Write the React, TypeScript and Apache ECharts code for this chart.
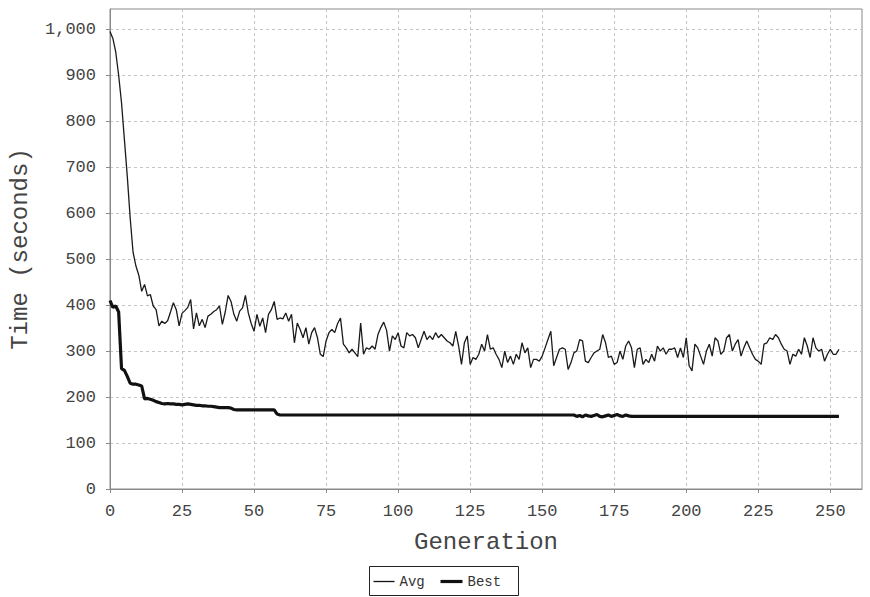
import React, { useEffect, useRef } from "react";
import * as echarts from "echarts";

const avgValues: number[] = [
  995, 980, 950, 900, 840, 760, 680, 590, 515, 485,
  465, 430, 445, 420, 423, 398, 390, 355, 365, 360,
  366, 385, 405, 390, 355, 382, 388, 395, 412, 348,
  383, 355, 369, 351, 376, 380, 386, 390, 398, 358,
  385, 421, 408, 380, 365, 387, 394, 421, 383, 360,
  343, 380, 354, 372, 340, 380, 390, 408, 369, 372,
  370, 383, 365, 380, 318, 361, 347, 329, 351, 315,
  340, 351, 329, 293, 288, 322, 340, 347, 340, 360,
  372, 315, 307, 296, 304, 296, 288, 361, 293, 307,
  304, 311, 304, 336, 351, 363, 345, 300, 333, 325,
  340, 311, 307, 340, 333, 336, 329, 307, 325, 343,
  325, 333, 325, 340, 329, 336, 329, 322, 318, 311,
  343, 311, 271, 318, 333, 271, 286, 282, 293, 315,
  300, 336, 304, 307, 293, 282, 264, 300, 275, 289,
  271, 293, 282, 318, 296, 307, 264, 282, 282, 278,
  289, 307, 325, 343, 268, 286, 304, 307, 304, 260,
  275, 296, 300, 325, 322, 278, 275, 286, 296, 300,
  304, 336, 318, 286, 289, 271, 275, 300, 282, 311,
  322, 307, 264, 304, 307, 271, 282, 275, 293, 278,
  311, 300, 307, 293, 304, 304, 307, 286, 307, 286,
  329, 268, 257, 315, 307, 289, 271, 300, 315, 289,
  329, 322, 293, 300, 329, 336, 300, 315, 325, 289,
  307, 322, 307, 293, 282, 278, 271, 315, 318, 329,
  325, 336, 329, 315, 304, 300, 271, 293, 289, 304,
  293, 329, 311, 286, 329, 307, 300, 304, 278, 293,
  304, 293, 293, 304,
];

const bestValues: number[] = [
  410, 395, 398, 385, 262, 258, 245, 230, 228, 228,
  226, 224, 196, 197, 195, 193, 190, 188, 186, 185,
  186, 185, 185, 184, 184, 183, 184, 185, 184, 183,
  182, 182, 181, 181, 180, 180, 179, 178, 177, 177,
  177, 177, 176, 173, 172, 172, 172, 172, 172, 172,
  172, 172, 172, 172, 172, 172, 172, 172, 163, 161,
  161, 161, 161, 161, 161, 161, 161, 161, 161, 161,
  161, 161, 161, 161, 161, 161, 161, 161, 161, 161,
  161, 161, 161, 161, 161, 161, 161, 161, 161, 161,
  161, 161, 161, 161, 161, 161, 161, 161, 161, 161,
  161, 161, 161, 161, 161, 161, 161, 161, 161, 161,
  161, 161, 161, 161, 161, 161, 161, 161, 161, 161,
  161, 161, 161, 161, 161, 161, 161, 161, 161, 161,
  161, 161, 161, 161, 161, 161, 161, 161, 161, 161,
  161, 161, 161, 161, 161, 161, 161, 161, 161, 161,
  161, 161, 161, 161, 161, 161, 161, 161, 161, 161,
  161, 161, 158, 160, 157, 161, 159, 158, 160, 162,
  158, 157, 159, 161, 158, 160, 162, 159, 158, 161,
  159, 158, 158, 158, 158, 158, 158, 158, 158, 158,
  158, 158, 158, 158, 158, 158, 158, 158, 158, 158,
  158, 158, 158, 158, 158, 158, 158, 158, 158, 158,
  158, 158, 158, 158, 158, 158, 158, 158, 158, 158,
  158, 158, 158, 158, 158, 158, 158, 158, 158, 158,
  158, 158, 158, 158, 158, 158, 158, 158, 158, 158,
  158, 158, 158, 158, 158, 158, 158, 158, 158, 158,
  158, 158, 158, 158,
];

const xTicks: number[] = [0, 25, 50, 75, 100, 125, 150, 175, 200, 225, 250];
const yTicks: number[] = [0, 100, 200, 300, 400, 500, 600, 700, 800, 900, 1000];
const seriesNames: string[] = ["Avg", "Best"];

const FONT = "'Liberation Mono', 'Courier New', monospace";

export default function App() {
  const ref = useRef<HTMLDivElement>(null);

  useEffect(() => {
    if (!ref.current) return;
    const chart = echarts.init(ref.current, undefined, { renderer: "svg" });
    const avgData = avgValues.map((v, i) => [i, v]);
    const bestData = bestValues.map((v, i) => [i, v]);

    chart.setOption({
      animation: false,
      backgroundColor: "#ffffff",
      grid: {
        left: 110,
        right: 8,
        top: 9,
        bottom: 108,
        show: true,
        borderColor: "#8a8a8a",
        borderWidth: 1,
        backgroundColor: "#ffffff",
      },
      xAxis: {
        type: "value",
        min: 0,
        max: 261,
        interval: 25,
        offset: 5,
        name: "Generation",
        nameLocation: "middle",
        nameGap: 36,
        nameTextStyle: { fontFamily: FONT, fontSize: 24, color: "#444" },
        axisLine: { show: true, lineStyle: { color: "#8a8a8a", width: 1 } },
        axisTick: {
          show: true,
          length: 4,
          lineStyle: { color: "#8a8a8a" },
          customValues: xTicks,
        },
        axisLabel: {
          fontFamily: FONT,
          fontSize: 17,
          color: "#444",
          margin: 9,
          customValues: xTicks,
        },
        splitLine: {
          show: true,
          lineStyle: { color: "#c4c4c4", type: [3, 3], width: 1 },
        },
      },
      yAxis: {
        type: "value",
        min: 0,
        max: 1044,
        interval: 100,
        offset: 6,
        name: "Time (seconds)",
        nameLocation: "middle",
        nameRotate: 90,
        nameGap: 72,
        nameTextStyle: { fontFamily: FONT, fontSize: 24, color: "#444" },
        axisLine: { show: true, lineStyle: { color: "#8a8a8a", width: 1 } },
        axisTick: {
          show: true,
          length: 4,
          lineStyle: { color: "#8a8a8a" },
          customValues: yTicks,
        },
        axisLabel: {
          fontFamily: FONT,
          fontSize: 17,
          color: "#444",
          margin: 8,
          customValues: yTicks,
          formatter: (v: number) => v.toLocaleString("en-US"),
        },
        splitLine: {
          show: true,
          lineStyle: { color: "#c4c4c4", type: [3, 3], width: 1 },
        },
      },
      legend: { show: false },
      graphic: [
        {
          type: "group",
          left: 369,
          top: 566,
          children: [
            {
              type: "rect",
              shape: { x: 0, y: 0, width: 149, height: 29 },
              style: { fill: "#ffffff", stroke: "#222", lineWidth: 1 },
            },
            {
              type: "line",
              shape: { x1: 4, y1: 15, x2: 25, y2: 15 },
              style: { stroke: "#111", lineWidth: 1.3 },
            },
            {
              type: "text",
              x: 30,
              y: 15,
              style: {
                text: seriesNames[0],
                font: `14px ${FONT}`,
                fill: "#333",
                verticalAlign: "middle",
              },
            },
            {
              type: "line",
              shape: { x1: 71, y1: 15, x2: 93, y2: 15 },
              style: { stroke: "#111", lineWidth: 3.2 },
            },
            {
              type: "text",
              x: 98,
              y: 15,
              style: {
                text: seriesNames[1],
                font: `14px ${FONT}`,
                fill: "#333",
                verticalAlign: "middle",
              },
            },
          ],
        },
      ],
      series: [
        {
          name: seriesNames[0],
          type: "line",
          data: avgData,
          showSymbol: false,
          symbol: "none",
          lineStyle: { color: "#1a1a1a", width: 1.3 },
          z: 3,
        },
        {
          name: seriesNames[1],
          type: "line",
          data: bestData,
          showSymbol: false,
          symbol: "none",
          lineStyle: { color: "#111", width: 3.2 },
          z: 4,
        },
      ],
    });

    return () => chart.dispose();
  }, []);

  return <div ref={ref} style={{ width: 870, height: 597, position: "absolute", left: 0, top: 0 }} />;
}
